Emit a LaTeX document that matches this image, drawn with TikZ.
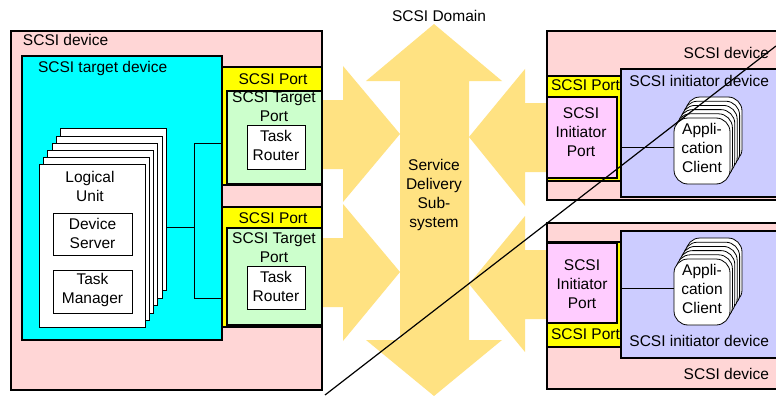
\documentclass[tikz,border=0pt]{standalone}
\usepackage{fontspec}
\setmainfont{Liberation Sans}
\definecolor{devpink}{RGB}{255,214,214}
\definecolor{arrowy}{RGB}{255,226,130}
\definecolor{tgtcyan}{RGB}{0,255,255}
\definecolor{porty}{RGB}{255,255,0}
\definecolor{tgtgreen}{RGB}{204,255,204}
\definecolor{initpink}{RGB}{255,204,255}
\definecolor{initblue}{RGB}{204,204,255}
\newcommand{\bx}[7][]{%
  \pgfmathsetmacro{\bxw}{#5-#3}\pgfmathsetmacro{\bxh}{#6-#4}%
  \pgfmathsetmacro{\bxx}{(#3+#5)/2}\pgfmathsetmacro{\bxy}{(#4+#6)/2}%
  \node[#1,minimum width=\bxw pt,minimum height=\bxh pt] (#2) at (\bxx,\bxy) {#7};}
\newcommand{\up}[2]{\raisebox{#1pt}[\height][\depth]{\begin{tabular}{@{}c@{}}#2\end{tabular}}}
\newcommand{\lab}{\fontsize{15.5}{19}\selectfont}
\tikzset{
  x=1pt,y=-1pt,
  heavy/.style={draw=black,line width=2pt,inner sep=0pt,outer sep=0pt},
  thin box/.style={draw=black,line width=1pt,fill=white,inner sep=0pt,outer sep=0pt,align=center,font=\lab},
  page/.style={thin box},
  client/.style={thin box,line width=0.8pt,rounded corners=14pt},
  wire/.style={draw=black,line width=1pt},
  lbl/.style={inner sep=0pt,outer sep=0pt,align=center,font=\lab},
  bigarrow/.style={fill=arrowy,draw=none},
}
\begin{document}
\begin{tikzpicture}
\clip (0,0) rectangle (776,396);
\fill[white] (0,0) rectangle (776,396);
% service delivery arrows
\path[bigarrow] (434,24) -- (502,81) -- (469,81) -- (469,340) -- (502,340) -- (434,396) -- (366,340) -- (400,340) -- (400,81) -- (366,81) -- cycle;
\path[bigarrow] (322,100) -- (343,100) -- (343,66) -- (400,134) -- (343,202) -- (343,169) -- (322,169) -- cycle;
\path[bigarrow] (322,238) -- (343,238) -- (343,204) -- (400,272) -- (343,341) -- (343,307) -- (322,307) -- cycle;
\path[bigarrow] (547,103) -- (525,103) -- (525,69) -- (469,137) -- (525,206) -- (525,172) -- (547,172) -- cycle;
\path[bigarrow] (547,250) -- (525,250) -- (525,216) -- (469,284) -- (525,352) -- (525,319) -- (547,319) -- cycle;
% devices
\bx[heavy,fill=devpink]{devL}{11}{31}{322}{390}{}
\bx[heavy,fill=devpink]{devR1}{547}{31}{800}{200}{}
\bx[heavy,fill=devpink]{devR2}{547}{223}{800}{389}{}
% target device
\bx[heavy,fill=tgtcyan]{tgt}{22}{56}{222}{340}{}
% target ports
\bx[heavy,fill=porty]{portA}{222}{67}{322}{185}{}
\bx[heavy,fill=tgtgreen]{tpA}{227}{91}{322}{184}{}
\bx[thin box]{trA}{247}{125}{305}{169}{\up{-0.5}{Task\\Router}}
\bx[heavy,fill=porty]{portB}{222}{207}{322}{327}{}
\bx[heavy,fill=tgtgreen]{tpB}{227}{228}{322}{325}{}
\bx[thin box]{trB}{247}{266}{305}{309}{\up{-1}{Task\\Router}}
% logical unit stack
\bx[page]{lu5}{60}{128}{166}{290}{}
\bx[page]{lu4}{56}{136}{162}{298}{}
\bx[page]{lu3}{52}{143}{157}{305}{}
\bx[page]{lu2}{47}{150}{153}{313}{}
\bx[page]{lu1}{43}{157}{149}{320}{}
\bx[page]{lu0}{39}{164}{145}{327}{}
\bx[thin box]{ds}{53}{213}{132}{255}{\up{-1}{Device\\Server}}
\bx[thin box]{tm}{53}{270}{132}{313}{\up{1}{Task\\Manager}}
% bus
\coordinate (busT) at (194,143);
\coordinate (busM) at (194,227);
\coordinate (busB) at (194,298);
\draw[wire] (portA.west |- busT) -- (busT) -- (busB) -- (portB.west |- busB);
\draw[wire] (lu5.east |- busM) -- (busM);
% initiator side
\bx[heavy,fill=porty]{portC}{547}{76}{621}{181}{}
\bx[heavy,fill=initpink]{ipC}{547}{97}{617}{178}{}
\bx[heavy,fill=initblue]{idC}{621}{69}{800}{197}{}
\bx[heavy,fill=porty]{portD}{547}{242}{621}{347}{}
\bx[heavy,fill=initpink]{ipD}{547}{243}{617}{323}{}
\bx[heavy,fill=initblue]{idD}{621}{231}{800}{358}{}
% application clients
\foreach \s/\d in {C/0,D/141}{
  \foreach \i in {5,4,3,2,1}{
    \pgfmathsetmacro{\ax}{674+2.4*\i}
    \pgfmathsetmacro{\ay}{118+\d-4.2*\i}
    \pgfmathsetmacro{\bxa}{730+2.4*\i}
    \pgfmathsetmacro{\bya}{184+\d-4.2*\i}
    \bx[client]{ac\s\i}{\ax}{\ay}{\bxa}{\bya}{}
  }
}
\bx[client]{acC0}{674}{118}{730}{184}{\up{1.5}{Appli-\\cation\\Client}}
\bx[client]{acD0}{674}{259}{730}{325}{\up{1}{Appli-\\cation\\Client}}
\draw[wire] (idC.west |- 0,147) -- (acC0.west |- 0,147);
\draw[wire] (idD.west |- 0,288) -- (acD0.west |- 0,288);
% labels
\node[lbl,anchor=west] (tA) at (23,40) {SCSI device};
\node[lbl,anchor=west] (tB) at (38,68) {SCSI target device};
\node[lbl] (tC) at (273,79.5) {SCSI Port};
\node[lbl] (tD) at (274,107) {SCSI Target\\Port};
\node[lbl] (tE) at (273,218.5) {SCSI Port};
\node[lbl] (tF) at (274,247.5) {SCSI Target\\Port};
\node[lbl] (tG) at (90,186.5) {Logical\\Unit};
\node[lbl] (tH) at (439,15.5) {SCSI Domain};
\node[lbl] (tI) at (434,195) {Service\\Delivery\\Sub-\\system};
\node[lbl,anchor=east] (tJ) at (769,53) {SCSI device};
\node[lbl,anchor=east] (tK) at (769,373.5) {SCSI device};
\node[lbl,anchor=east] (tL) at (769,81) {SCSI initiator device};
\node[lbl,anchor=east] (tM) at (769,341) {SCSI initiator device};
\node[lbl,anchor=west] (tN) at (551,85.5) {SCSI Port};
\node[lbl,anchor=west] (tO) at (551,334.5) {SCSI Port};
\node[lbl] (tP) at (581,132) {SCSI\\Initiator\\Port};
\node[lbl] (tQ) at (582,284) {SCSI\\Initiator\\Port};
% diagonal
\coordinate (diagA) at (325,395);
\coordinate (diagB) at (776,46);
\draw[black,line width=1.2pt] (diagA) -- (diagB);
\end{tikzpicture}
\end{document}
